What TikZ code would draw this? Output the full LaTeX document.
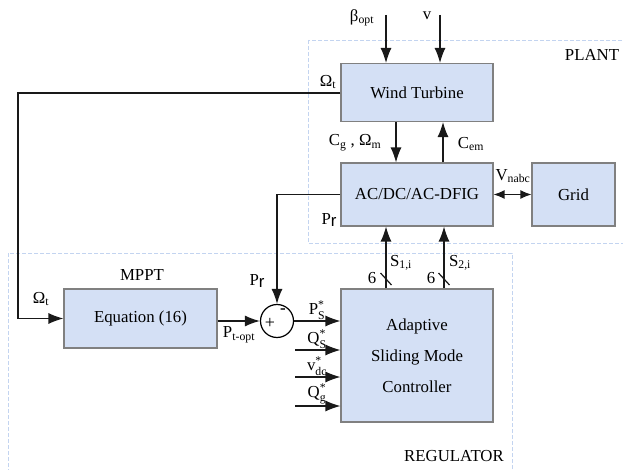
\documentclass[tikz,border=0pt]{standalone}
\usepackage{amsmath}
\usepackage{fontspec}
\setmainfont{Liberation Serif}
\setsansfont{Liberation Sans}
\usetikzlibrary{arrows.meta}
\definecolor{boxfill}{RGB}{212,224,245}
\definecolor{boxedge}{RGB}{128,128,128}
\definecolor{zone}{RGB}{195,212,240}
\newcommand\supsub[3]{$\text{#1}^{\text{#2}}_{\text{#3}}$}
\newcommand\rotorP{P\raisebox{-2pt}{\sffamily r}}
\tikzset{
  block/.style={draw=boxedge, fill=boxfill, line width=1.1pt, inner sep=0pt},
  zonebox/.style={draw=zone, line width=0.8pt, dash pattern=on 4pt off 2pt},
  sig/.style={line width=1.2pt, draw=black!90},
  tip/.style={-{Latex[length=15pt,width=11pt]}},
  lbl/.style={inner sep=0pt},
}
\begin{document}
\begin{tikzpicture}[x=1pt,y=-1pt,font=\fontsize{16.8}{19}\selectfont]
\useasboundingbox (0,0) rectangle (623,470);

% grouping frames
\draw[zonebox] (308,40) rectangle (640,243);
\draw[zonebox] (8,253) rectangle (512,490);
\node[lbl] (plant) at (592,55) {PLANT};
\node[lbl] (reg) at (454,456) {REGULATOR};

% blocks
\node[block, minimum width=152pt, minimum height=58pt] (wt) at (417,92.5) {Wind Turbine};
\node[block, minimum width=152pt, minimum height=63pt] (dfig) at (417,194.5) {AC/DC/AC-DFIG};
\node[block, minimum width=83pt, minimum height=63pt] (grid) at (573.5,194.5) {Grid};
\node[block, minimum width=152pt, minimum height=133pt, align=center,
      font=\fontsize{16.8}{31}\selectfont] (asmc) at (417,355.5) {Adaptive\\Sliding Mode\\Controller};
\node[block, minimum width=153pt, minimum height=59pt] (eq) at (140.5,318.5) {Equation (16)};
\node[draw=black, line width=1.2pt, circle, minimum size=33pt, inner sep=0pt] (sum) at (277,321) {};
\node[lbl, font=\fontsize{18}{19}\selectfont] (plus) at (270,323) {+};
\node[lbl, font=\fontsize{17}{19}\selectfont\bfseries] (minus) at (283,311) {-};

% external inputs of the turbine
\coordinate (beta) at (386,15);
\coordinate (wind) at (440,15);
\draw[sig,tip] (beta) -- (beta |- wt.north);
\draw[sig,tip] (wind) -- (wind |- wt.north);
\node[lbl] (betal) at (362,18) {β\textsubscript{opt}};
\node[lbl] (windl) at (427,16) {v};

% turbine / generator coupling
\coordinate (cgx) at (396,0);
\coordinate (cemx) at (443,0);
\draw[sig,tip] (cgx |- wt.south) -- (cgx |- dfig.north);
\draw[sig,tip] (cemx |- dfig.north) -- (cemx |- wt.south);
\node[lbl] (cgl) at (355,143) {C\textsubscript{g} , Ω\textsubscript{m}};
\node[lbl] (ceml) at (471,144) {C\textsubscript{em}};

% grid connection
\draw[sig,{Latex[length=11pt,width=9pt]}-{Latex[length=11pt,width=9pt]}] (dfig.east) -- (grid.west);
\node[lbl] (vnl) at (513,176) {V\textsubscript{nabc}};

% speed feedback to the MPPT
\coordinate (omx) at (18,93);
\draw[sig,tip] (wt.west |- omx) -- (omx) -- (omx |- eq.west) -- (eq.west);
\node[lbl] (omtop) at (328,82) {Ω\textsubscript{t}};
\node[lbl] (omleft) at (41,299) {Ω\textsubscript{t}};
\node[lbl] (mppt) at (142,275) {MPPT};

% rotor power feedback
\draw[sig,tip] (dfig.west) -- (dfig.west -| sum.north) -- (sum.north);
\node[lbl] (prtop) at (329,220) {\rotorP};
\node[lbl] (prsum) at (257,281) {\rotorP};

% optimal power to the summing junction
\draw[sig,tip] (eq.east |- sum.west) -- (sum.west);
\node[lbl] (ptl) at (239,335) {P\textsubscript{t-opt}};

% references to the controller
\coordinate (qs) at (295,350);
\coordinate (vdc) at (295,377);
\coordinate (qg) at (295,406);
\draw[sig,tip] (sum.east) -- (sum.east -| asmc.west);
\draw[sig,tip] (qs) -- (qs -| asmc.west);
\draw[sig,tip] (vdc) -- (vdc -| asmc.west);
\draw[sig,tip] (qg) -- (qg -| asmc.west);
\node[lbl] (psl) at (317,310) {\supsub{P}{*}{S}};
\node[lbl] (qsl) at (317,339) {\supsub{Q}{*}{S}};
\node[lbl] (vdcl) at (317,366) {\supsub{v}{*}{dc}};
\node[lbl] (qgl) at (317,394) {\supsub{Q}{*}{g}};

% switching signals to the converter
\coordinate (s1) at (386,0);
\coordinate (s2) at (444,0);
\draw[sig,tip] (s1 |- asmc.north) -- (s1 |- dfig.south);
\draw[sig,tip] (s2 |- asmc.north) -- (s2 |- dfig.south);
\draw[sig] (380.5,273) -- (391.5,285);
\draw[sig] (438.5,273) -- (449.5,285);
\node[lbl] (six1) at (372,278) {6};
\node[lbl] (six2) at (431,278) {6};
\node[lbl] (s1l) at (401,263) {S\textsubscript{1,i}};
\node[lbl] (s2l) at (460,263) {S\textsubscript{2,i}};
\end{tikzpicture}
\end{document}
